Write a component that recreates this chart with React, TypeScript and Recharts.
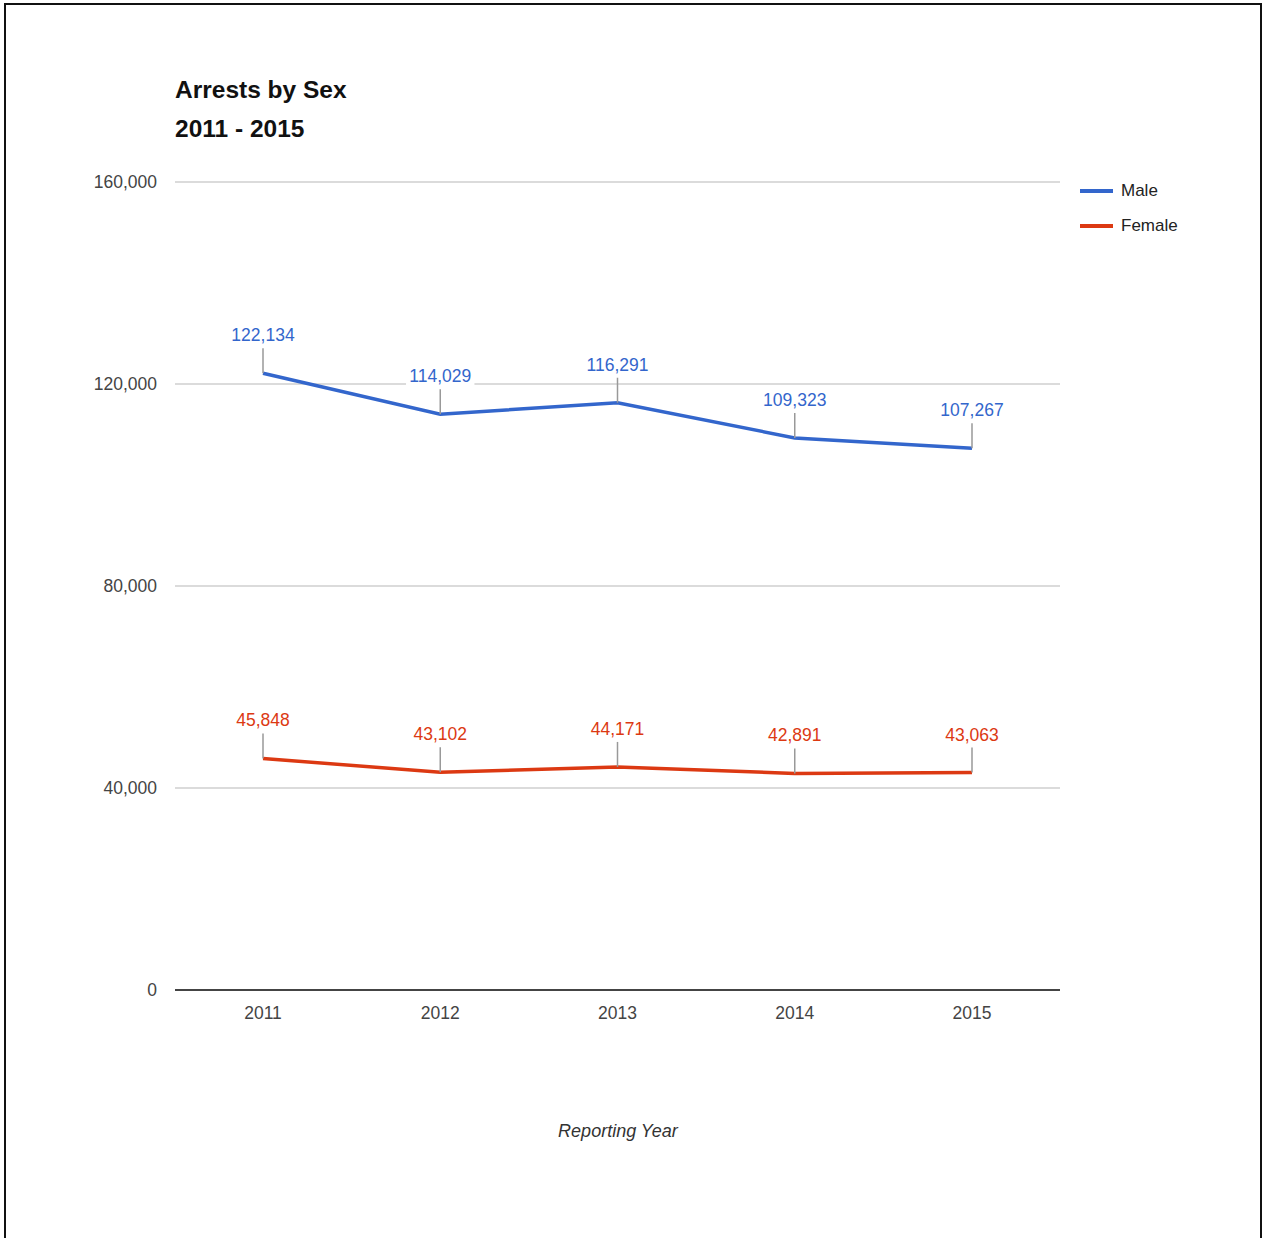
import { LineChart, Line, XAxis, YAxis, CartesianGrid, Legend, LabelList } from "recharts";

const years = ["2011", "2012", "2013", "2014", "2015"];
const male = [122134, 114029, 116291, 109323, 107267];
const female = [45848, 43102, 44171, 42891, 43063];
const yTicks = [0, 40000, 80000, 120000, 160000];

const BLUE = "#3366cc";
const RED = "#dc3912";
const FONT = "Arial, 'Liberation Sans', sans-serif";

const data = years.map((year, i) => ({ year, male: male[i], female: female[i] }));

function pointLabel(color: string) {
  return (props: any) => {
    const vb = props.viewBox || {};
    const x = props.x ?? vb.x;
    const y = props.y ?? vb.y;
    if (x == null || y == null) return null;
    const text = Number(props.value).toLocaleString("en-US");
    const w = text.length * 9.2 + 4;
    return (
      <g>
        <line x1={x} y1={y} x2={x} y2={y - 25} stroke="#999" strokeWidth={1.5} />
        <rect x={x - w / 2} y={y - 49} width={w} height={21} fill="#fff" />
        <text x={x} y={y - 32} textAnchor="middle" fill={color} fontSize={17.5} fontFamily={FONT}>
          {text}
        </text>
      </g>
    );
  };
}

function LegendBox() {
  const items = [
    { name: "Male", color: BLUE },
    { name: "Female", color: RED },
  ];
  return (
    <div style={{ fontFamily: FONT, fontSize: 17, color: "#222" }}>
      {items.map((it) => (
        <div key={it.name} style={{ display: "flex", alignItems: "center", height: 35 }}>
          <span style={{ display: "inline-block", width: 33, height: 4, background: it.color, marginRight: 8 }} />
          {it.name}
        </div>
      ))}
    </div>
  );
}

export default function App() {
  return (
    <div style={{ position: "absolute", left: 0, top: 0, width: 1262, height: 1238, overflow: "hidden", background: "#fff" }}>
      <div
        style={{
          position: "absolute",
          left: 4,
          top: 3,
          width: 1258,
          height: 1300,
          border: "2px solid #111",
          boxSizing: "border-box",
        }}
      />
      <div
        style={{
          position: "absolute",
          left: 175,
          top: 70,
          fontFamily: FONT,
          fontWeight: "bold",
          fontSize: 24.5,
          lineHeight: "39px",
          color: "#111",
        }}
      >
        <div>Arrests by Sex</div>
        <div>2011 - 2015</div>
      </div>
      <div
        style={{
          position: "absolute",
          left: 0,
          width: 1236,
          top: 1121,
          textAlign: "center",
          fontFamily: FONT,
          fontStyle: "italic",
          fontSize: 18,
          color: "#333",
        }}
      >
        Reporting Year
      </div>
      <div style={{ position: "absolute", left: 0, top: 0 }}>
        <LineChart width={1262} height={1238} data={data} margin={{ top: 182, right: 32, bottom: 218, left: 0 }}>
          <CartesianGrid vertical={false} stroke="#cfcfcf" strokeWidth={1.5} />
          <XAxis
            dataKey="year"
            height={30}
            padding={{ left: 88, right: 88 }}
            tickLine={false}
            tickSize={0}
            tickMargin={17}
            axisLine={{ stroke: "#444", strokeWidth: 2 }}
            tick={{ fill: "#444", fontSize: 17.5, fontFamily: FONT }}
          />
          <YAxis
            width={175}
            domain={[0, 160000]}
            ticks={yTicks}
            axisLine={false}
            tickLine={false}
            tickSize={0}
            tickMargin={18}
            tick={{ fill: "#444", fontSize: 17.5, fontFamily: FONT }}
            tickFormatter={(v: number) => v.toLocaleString("en-US")}
          />
          <Legend
            layout="vertical"
            verticalAlign="top"
            align="right"
            content={() => <LegendBox />}
            wrapperStyle={{ left: 1080, top: 173, width: 170 }}
          />
          <Line
            type="linear"
            dataKey="male"
            name="Male"
            stroke={BLUE}
            strokeWidth={3.5}
            dot={false}
            isAnimationActive={false}
          >
            <LabelList dataKey="male" content={pointLabel(BLUE)} />
          </Line>
          <Line
            type="linear"
            dataKey="female"
            name="Female"
            stroke={RED}
            strokeWidth={3.5}
            dot={false}
            isAnimationActive={false}
          >
            <LabelList dataKey="female" content={pointLabel(RED)} />
          </Line>
        </LineChart>
      </div>
    </div>
  );
}
